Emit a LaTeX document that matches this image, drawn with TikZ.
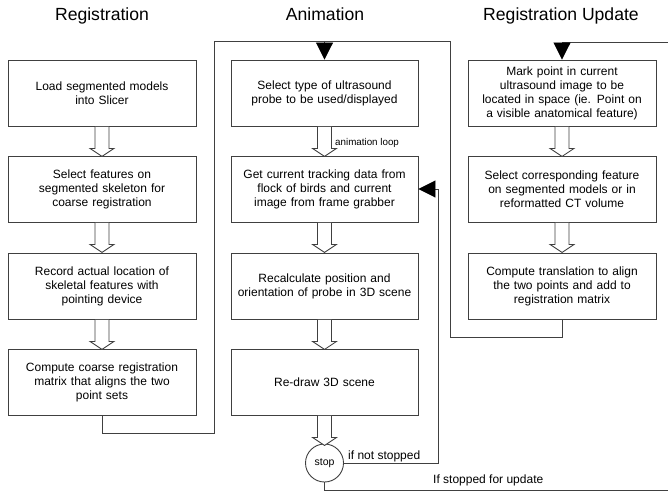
\documentclass[tikz,border=0pt]{standalone}
\usepackage{fontspec}
\setmainfont{Liberation Sans}
\usetikzlibrary{arrows.meta}
\begin{document}
\begin{tikzpicture}[x=1pt,y=-1pt,
  ln/.style={draw=black!75, line width=0.9pt},
  box/.style={ln, rectangle, minimum width=188pt, minimum height=66pt, inner sep=0pt, align=center, text width=186pt, font=\fontsize{12}{14}\selectfont},
  ttl/.style={font=\fontsize{17.6}{20}\selectfont, anchor=base},
  lbl/.style={font=\fontsize{12}{14}\selectfont, anchor=west, inner sep=0pt},
  tri/.style={ln, -{Triangle[length=17pt,width=17pt,color=black,fill=black]}},
  barrow/.pic={\draw[ln, fill=white] (-7,0.5) -- (-7,22) -- (-12,22) -- (0,30) -- (12,22) -- (7,22) -- (7,0.5);}
]
\useasboundingbox (0,0) rectangle (668,492);

% titles
\node[ttl] (t1) at (102,21) {Registration};
\node[ttl] (t2) at (325,21) {Animation};
\node[ttl] (t3) at (561,21) {Registration Update};

% registration column
\node[box] (L1) at (102,93) {Load segmented models\\into Slicer};
\node[box] (L2) at (102,189) {Select features on\\segmented skeleton for\\coarse registration};
\node[box] (L3) at (102,286) {Record actual location of\\skeletal features with\\pointing device};
\node[box] (L4) at (102,382) {Compute coarse registration\\matrix that aligns the two\\point sets};

% animation column
\node[box, minimum width=187pt] (A1) at (324.5,93) {Select type of ultrasound\\probe to be used/displayed};
\node[box, minimum width=187pt] (A2) at (324.5,189) {Get current tracking data from\\flock of birds and current\\image from frame grabber};
\node[box, minimum width=187pt] (A3) at (324.5,286) {Recalculate position and\\orientation of probe in 3D scene};
\node[box, minimum width=187pt] (A4) at (324.5,382) {Re-draw 3D scene};
\node[circle, ln, minimum size=38pt, inner sep=0pt, font=\fontsize{10.5}{12}\selectfont] (S) at (324.5,463) {stop};

% registration update column
\node[box] (R1) at (562,93) {Mark point in current\\ultrasound image to be\\located in space (ie. Point on\\a visible anatomical feature)};
\node[box] (R2) at (562,189) {Select corresponding feature\\on segmented models or in\\reformatted CT volume};
\node[box] (R3) at (562,286) {Compute translation to align\\the two points and add to\\registration matrix};

% block arrows
\pic at (L1.south) {barrow};
\pic at (L2.south) {barrow};
\pic at (L3.south) {barrow};
\pic at (A1.south) {barrow};
\pic at (A2.south) {barrow};
\pic at (A3.south) {barrow};
\pic at (A4.south) {barrow};
\pic at (R1.south) {barrow};
\pic at (R2.south) {barrow};

% connector coordinates
\coordinate (lbc) at (214,433);
\coordinate (ltc) at (214,41);
\coordinate (tjc) at (450,41);
\coordinate (rbc) at (450,337);
\coordinate (amid) at (324.5,41);
\coordinate (nrc) at (438,189);
\coordinate (brc) at (668,490);
\coordinate (trc) at (668,42);

% loops
\draw[ln] (L4.south) |- (lbc) -- (ltc) -- (tjc) -- (rbc) -| (R3.south);
\draw[tri] (amid) -- (A1.north);
\draw[tri] (S.east) -| (nrc) -- (A2.east);
\draw[ln] (S.south) |- (brc);
\draw[tri] (trc) -| (R1.north);

% labels
\node[lbl, font=\fontsize{9.8}{12}\selectfont] (la) at (335,143) {animation loop};
\node[lbl] (lb) at (348,456) {if not stopped};
\node[lbl] (lc) at (433,480) {If stopped for update};
\end{tikzpicture}
\end{document}
